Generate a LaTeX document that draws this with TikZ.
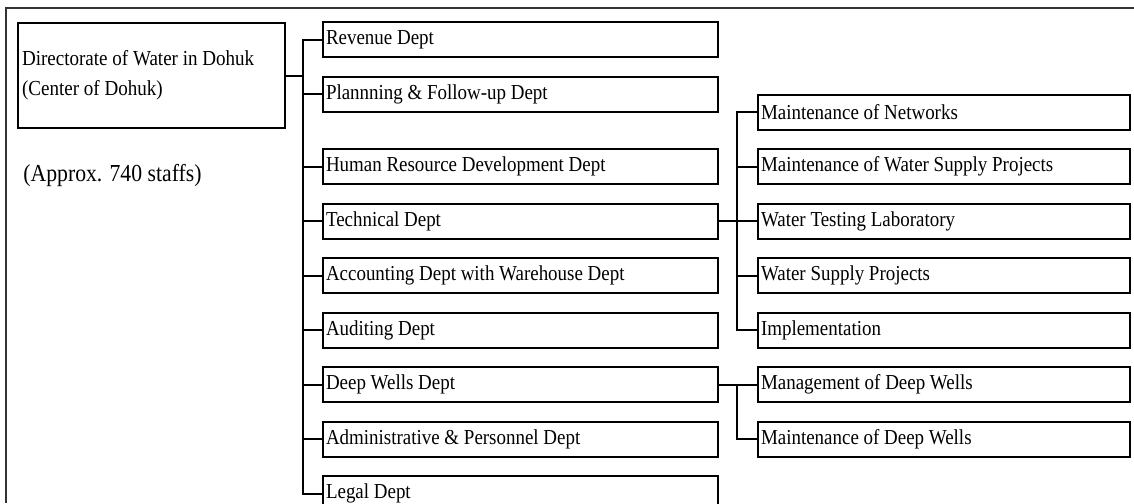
\documentclass[tikz,border=0pt]{standalone}
\usepackage{fontspec}
\setmainfont{Liberation Serif}[FakeStretch=0.89]
\usetikzlibrary{positioning}
\tikzset
{
    boxnode/.style  = {draw=black, line width=1pt, align=flush left, inner xsep=1.5pt, inner ysep=0pt, font=\fontsize{10.65}{12}\selectfont},
    deptnode/.style = {boxnode, text width=194.5pt, minimum height=17.5pt},
    unitnode/.style = {boxnode, text width=183pt, minimum height=17.5pt},
    headnode/.style = {boxnode, text width=129.5pt, minimum height=52.5pt, inner xsep=2pt, font=\fontsize{10.7}{15}\selectfont},
    link/.style     = {draw=black, line width=1pt},
    frame/.style    = {draw=black!80, line width=0.75pt}
}

\begin{document}
\begin{tikzpicture}[x=0.5pt, y=-0.5pt, node distance=8.75pt]
\useasboundingbox (0,0) rectangle (1134,503);
\draw[frame] (1134,8) -| (6,503);

\node[headnode, anchor=north west] (dir) at (17,22) {Directorate of Water in Dohuk\\(Center of Dohuk)};
\node[anchor=west, inner sep=0pt, font=\fontsize{12.2}{14}\selectfont] (staff) at (23,176) {(Approx. 740 staffs)};

\node[deptnode, anchor=west] (rev) at (322,39.5) {Revenue Dept};
\node[deptnode, below=of rev] (plan) {Plannning \& Follow-up Dept};
\node[deptnode, below=17.75pt of plan] (hrd) {Human Resource Development Dept};
\node[deptnode, below=of hrd] (tech) {Technical Dept};
\node[deptnode, below=of tech] (acc) {Accounting Dept with Warehouse Dept};
\node[deptnode, below=of acc] (aud) {Auditing Dept};
\node[deptnode, below=of aud] (deep) {Deep Wells Dept};
\node[deptnode, below=of deep] (adm) {Administrative \& Personnel Dept};
\node[deptnode, below=of adm] (legal) {Legal Dept};

\node[unitnode, right=19pt of tech] (lab) {Water Testing Laboratory};
\node[unitnode, above=of lab] (mwsp) {Maintenance of Water Supply Projects};
\node[unitnode, above=of mwsp] (net) {Maintenance of Networks};
\node[unitnode, below=of lab] (wsp) {Water Supply Projects};
\node[unitnode, below=of wsp] (impl) {Implementation};

\node[unitnode, right=19pt of deep] (mdw) {Management of Deep Wells};
\node[unitnode, below=of mdw] (mtdw) {Maintenance of Deep Wells};

\coordinate (bus) at (303,0);
\coordinate (tbus) at (737,0);

\draw[link] (dir.east) -- (dir.east -| bus);
\draw[link] (rev.west) -| (bus |- legal.west) -- (legal.west);
\foreach \n in {plan,hrd,tech,acc,aud,deep,adm}
    \draw[link] (bus |- \n.west) -- (\n.west);

\draw[link] (tech.east) -- (lab.west);
\draw[link] (net.west) -| (tbus |- impl.west) -- (impl.west);
\foreach \n in {mwsp,wsp}
    \draw[link] (tbus |- \n.west) -- (\n.west);

\draw[link] (deep.east) -- (mdw.west);
\draw[link] (tbus |- mdw.west) |- (mtdw.west);
\end{tikzpicture}
\end{document}
